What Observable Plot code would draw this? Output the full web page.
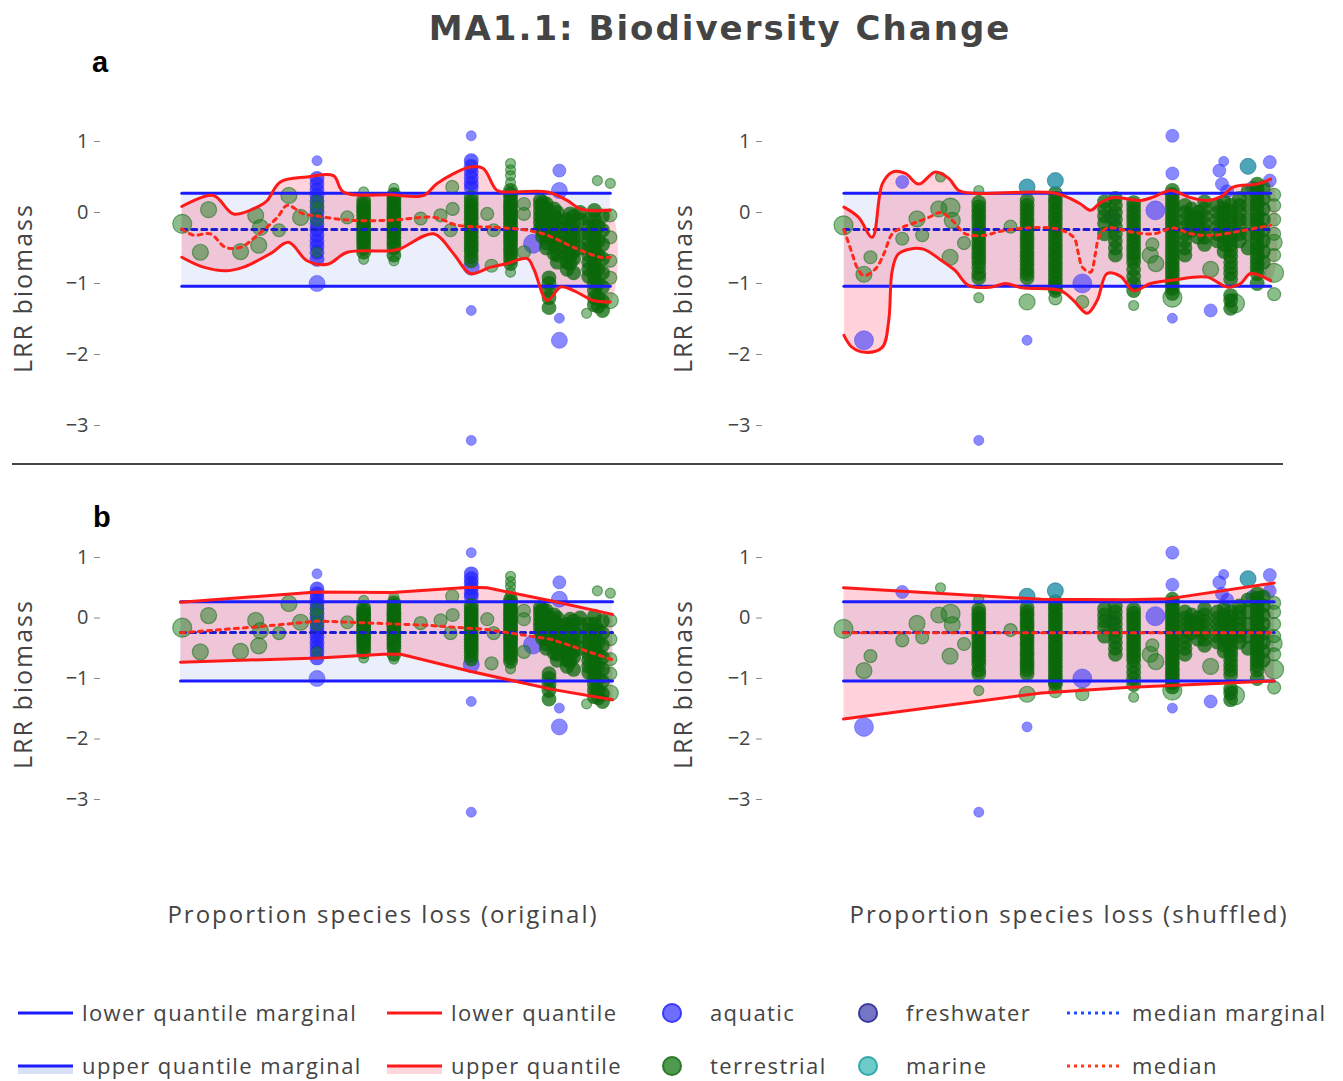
<!DOCTYPE html>
<html><head><meta charset="utf-8">
<script src="https://cdn.jsdelivr.net/npm/d3@7"></script>
<script src="https://cdn.jsdelivr.net/npm/@observablehq/plot@0.6"></script>
<style>
body{margin:0;background:#fff;}
#root{position:relative;width:1343px;height:1081px;overflow:hidden;font-family:"Open Sans",sans-serif;color:#444;}
.t{position:absolute;white-space:nowrap;line-height:1;}
.p{position:absolute;}
</style></head><body><div id="root"></div>
<script>
// ---------------- DATA ----------------
// marginal quantiles (same for all panels)
const marginal = {lower: -1.04, median: -0.24, upper: 0.27};

// ORIGINAL x (proportion species loss) — isolated points [x, y, weight]
const origTerrPts = [[0.004,-0.16,5],[0.065,0.04,4],[0.046,-0.56,4],[0.139,-0.55,4],[0.174,-0.04,4],[0.185,-0.21,4],[0.181,-0.46,4],[0.228,-0.25,3],[0.251,0.24,4],[0.278,-0.07,4],[0.386,-0.07,3],[0.556,-0.085,3],[0.602,-0.04,3],[0.629,0.36,3],[0.63,0.05,3],[0.625,-0.25,3],[0.71,-0.02,3],[0.725,-0.25,3],[0.72,-0.75,3],[0.795,0.12,3],[0.795,-0.02,3],[0.795,-0.56,3],[0.965,0.45,2],[0.995,0.41,2],[0.995,-0.04,3],[0.995,-0.35,3],[0.995,-0.68,3],[0.995,-0.92,3],[0.995,-1.24,4],[0.94,-1.42,2],[0.316,0.15,3],[0.316,0.05,3],[0.316,-0.1,3],[0.316,-0.56,2],[0.424,0.29,2],[0.424,-0.66,2],[0.494,0.34,2],[0.494,-0.68,2],[0.764,0.69,2],[0.764,0.6,2],[0.764,0.52,2],[0.764,0.42,2],[0.764,-0.84,2]];
// dense columns [x, [y...]]
const origTerrCols = [
 [0.424,[0.17,0.12,0.08,0.04,0.0,-0.04,-0.08,-0.12,-0.16,-0.2,-0.24,-0.28,-0.32,-0.36,-0.4,-0.45,-0.5,-0.56]],
 [0.494,[0.25,0.2,0.15,0.1,0.06,0.02,-0.02,-0.06,-0.1,-0.14,-0.18,-0.22,-0.26,-0.3,-0.35,-0.4,-0.45,-0.5,-0.6]],
 [0.673,[0.21,0.15,0.1,0.05,0.0,-0.05,-0.1,-0.15,-0.2,-0.25,-0.3,-0.35,-0.4,-0.45,-0.5,-0.55,-0.62,-0.68]],
 [0.764,[0.31,0.26,0.21,0.16,0.12,0.08,0.04,0.0,-0.04,-0.08,-0.12,-0.16,-0.2,-0.24,-0.28,-0.32,-0.36,-0.4,-0.45,-0.5,-0.55,-0.6,-0.66,-0.72]],
 [0.833,[0.17,0.1,0.02,-0.06,-0.14,-0.22]],
 [0.838,[0.14,0.06,-0.02,-0.1,-0.18,-0.26,-0.34]],
 [0.847,[0.12,0.05,-0.03,-0.11,-0.19,-0.27,-0.35,-0.43,-0.5]],
 [0.853,[-0.92,-1.0,-1.1,-1.2,-1.34]],
 [0.865,[0.05,-0.05,-0.15,-0.25,-0.35,-0.45,-0.58]],
 [0.872,[0.0,-0.1,-0.2,-0.3,-0.4,-0.5,-0.6,-0.7]],
 [0.895,[-0.1,-0.2,-0.3,-0.4,-0.5,-0.6,-0.7,-0.8]],
 [0.902,[-0.02,-0.12,-0.22,-0.32,-0.42,-0.52,-0.62,-0.72]],
 [0.91,[-0.05,-0.15,-0.25,-0.35,-0.45,-0.55,-0.65,-0.85]],
 [0.925,[0.0,-0.1,-0.3,-0.5]],
 [0.945,[-0.1,-0.2,-0.3,-0.4,-0.5,-0.6,-0.7,-0.8,-0.9]],
 [0.958,[0.03,-0.1,-0.2,-0.3,-0.4,-0.5,-0.6,-0.7,-0.8,-0.9,-1.0,-1.1,-1.2,-1.3]],
 [0.967,[-0.2,-0.4,-0.6,-0.8,-1.0,-1.2,-1.32]],
 [0.977,[-0.05,-0.25,-0.45,-0.65,-0.85,-1.05,-1.25,-1.38]]
];
const origAquaPts = [[0.316,0.73,2],[0.316,-1.0,4],[0.673,1.08,2],[0.673,-0.77,4],[0.673,-1.38,2],[0.673,-3.21,2],[0.816,-0.44,5],[0.877,0.59,3],[0.877,0.31,4],[0.877,-1.49,2],[0.877,-1.8,4]];
const origAquaCols = [
 [0.316,[0.48,0.4,0.32,0.24,0.16,0.08,0.0,-0.08,-0.16,-0.24,-0.32,-0.4,-0.48,-0.56,-0.66]],
 [0.673,[0.73,0.65,0.57,0.49,0.41,0.35]]
];
const origMarinePts = [];

// SHUFFLED x
const shufTerrPts = [[0.0,-0.18,5],[0.047,-0.87,4],[0.062,-0.63,3],[0.135,-0.37,3],[0.169,-0.09,4],[0.181,-0.32,3],[0.219,0.05,4],[0.223,0.5,2],[0.246,0.07,5],[0.25,-0.11,4],[0.245,-0.63,4],[0.277,-0.43,3],[0.384,-0.2,3],[0.549,-1.26,3],[0.311,0.31,2],[0.311,-1.2,2],[0.422,-1.26,4],[0.487,-1.21,3],[0.667,-1.31,2],[0.705,-0.6,4],[0.718,-0.72,4],[0.71,-0.45,3],[0.756,-1.2,5],[0.844,-0.8,4],[0.9,-1.28,5],[0.99,0.25,3],[0.99,0.1,3],[0.99,-0.1,3],[0.99,-0.3,3],[0.99,-0.42,4],[0.99,-0.6,3],[0.99,-0.85,5],[0.99,-1.15,3]];
const shufTerrCols = [
 [0.311,[0.14,0.08,0.02,-0.04,-0.1,-0.16,-0.22,-0.28,-0.34,-0.4,-0.46,-0.52,-0.58,-0.64,-0.7,-0.77,-0.86,-0.92]],
 [0.422,[0.17,0.1,0.04,-0.02,-0.08,-0.14,-0.2,-0.26,-0.32,-0.38,-0.44,-0.5,-0.56,-0.62,-0.68,-0.74,-0.8,-0.86,-0.92]],
 [0.487,[0.27,0.2,0.14,0.08,0.02,-0.04,-0.1,-0.16,-0.22,-0.28,-0.34,-0.4,-0.46,-0.52,-0.58,-0.64,-0.7,-0.76,-0.82,-0.88,-0.94,-1.0,-1.06,-1.1]],
 [0.6,[0.15,0.05,-0.05,-0.15,-0.3]],
 [0.625,[0.2,0.1,0.0,-0.1,-0.2,-0.3,-0.4,-0.5,-0.6]],
 [0.667,[0.14,0.08,0.02,-0.04,-0.1,-0.16,-0.22,-0.28,-0.34,-0.4,-0.46,-0.52,-0.58,-0.64,-0.7,-0.8,-0.9,-1.0,-1.1]],
 [0.756,[0.31,0.25,0.19,0.13,0.07,0.01,-0.05,-0.11,-0.17,-0.23,-0.29,-0.35,-0.41,-0.47,-0.53,-0.59,-0.65,-0.71,-0.77,-0.83,-0.89,-0.95,-1.01,-1.07,-1.14]],
 [0.785,[0.1,0.0,-0.1,-0.2,-0.3,-0.4,-0.5,-0.6]],
 [0.8,[0.05,-0.05,-0.15,-0.25]],
 [0.815,[0.0,-0.1,-0.2,-0.35]],
 [0.83,[0.15,0.05,-0.05,-0.15,-0.25,-0.35,-0.45]],
 [0.86,[0.1,0.0,-0.1,-0.2,-0.3,-0.4]],
 [0.875,[0.15,0.05,-0.05,-0.15,-0.25,-0.35,-0.45,-0.55]],
 [0.89,[0.1,0.02,-0.06,-0.14,-0.22,-0.3,-0.38,-0.46,-0.54,-0.62,-0.7,-0.78,-0.86,-0.94,-1.17,-1.24,-1.35]],
 [0.91,[0.2,0.1,0.0,-0.1,-0.2,-0.3,-0.4]],
 [0.93,[0.3,0.1,-0.1,-0.3,-0.5]],
 [0.951,[0.4,0.33,0.26,0.19,0.12,0.05,-0.02,-0.09,-0.16,-0.23,-0.3,-0.37,-0.44,-0.51,-0.58,-0.65,-0.72,-0.79,-0.86,-1.0]],
 [0.965,[0.35,0.2,0.05,-0.1,-0.25,-0.4,-0.55,-0.7]]
];
const shufAquaPts = [[0.047,-1.8,5],[0.135,0.43,3],[0.311,-3.21,2],[0.422,-1.8,2],[0.549,-1.0,5],[0.617,-0.07,4],[0.717,0.03,5],[0.756,1.08,3],[0.756,0.55,3],[0.756,-1.49,2],[0.844,-1.38,3],[0.864,0.59,3],[0.874,0.72,2],[0.87,0.4,3],[0.882,0.3,3],[0.98,0.71,3],[0.98,0.45,3],[0.94,0.35,3]];
const shufAquaCols = [];
const shufMarinePts = [[0.422,0.36,4],[0.487,0.45,4],[0.93,0.65,4]];

// quantile curves, panel a (smooth)
const origUpperA = [[0.003,0.085],[0.076,0.24],[0.123,-0.02],[0.185,0.1],[0.201,0.17],[0.231,0.43],[0.293,0.5],[0.354,0.52],[0.377,0.29],[0.486,0.25],[0.563,0.24],[0.594,0.41],[0.671,0.64],[0.701,0.62],[0.733,0.31],[0.771,0.29],[0.85,0.29],[0.895,0.17],[0.926,0.05],[0.995,0.03]];
const origLowerA = [[0.003,-0.63],[0.053,-0.77],[0.108,-0.82],[0.146,-0.77],[0.208,-0.58],[0.25,-0.42],[0.293,-0.68],[0.34,-0.73],[0.386,-0.56],[0.486,-0.54],[0.509,-0.51],[0.586,-0.3],[0.632,-0.58],[0.671,-0.86],[0.718,-0.77],[0.756,-0.72],[0.803,-0.65],[0.818,-0.8],[0.849,-1.24],[0.88,-1.05],[0.91,-1.1],[0.956,-1.24],[0.995,-1.26]];
const origMedianA = [[0.003,-0.23],[0.03,-0.32],[0.069,-0.3],[0.104,-0.49],[0.139,-0.49],[0.178,-0.32],[0.224,-0.07],[0.247,0.1],[0.285,-0.02],[0.316,-0.05],[0.394,-0.11],[0.486,-0.11],[0.588,-0.07],[0.641,-0.18],[0.733,-0.21],[0.803,-0.25],[0.849,-0.32],[0.91,-0.49],[0.972,-0.63],[0.995,-0.63]];
const shufUpperA = [[0.001,0.075],[0.035,-0.07],[0.066,-0.35],[0.089,0.4],[0.112,0.57],[0.142,0.55],[0.173,0.4],[0.211,0.57],[0.242,0.48],[0.265,0.31],[0.303,0.27],[0.487,0.27],[0.545,0.12],[0.568,0.03],[0.591,0.14],[0.621,0.21],[0.683,0.17],[0.713,0.22],[0.752,0.31],[0.798,0.21],[0.836,0.17],[0.867,0.22],[0.897,0.36],[0.951,0.4],[0.982,0.47]];
const shufLowerA = [[0.001,-1.73],[0.02,-1.9],[0.05,-1.97],[0.089,-1.9],[0.104,-1.52],[0.112,-0.82],[0.127,-0.58],[0.18,-0.51],[0.226,-0.68],[0.257,-0.82],[0.288,-1.03],[0.341,-1.05],[0.372,-1.0],[0.41,-1.06],[0.499,-1.1],[0.529,-1.24],[0.56,-1.42],[0.583,-1.24],[0.606,-0.86],[0.637,-0.9],[0.667,-1.1],[0.706,-1.0],[0.759,-0.95],[0.836,-0.91],[0.882,-1.05],[0.913,-1.0],[0.936,-0.86],[0.982,-0.96]];
const shufMedianA = [[0.001,-0.24],[0.02,-0.58],[0.031,-0.77],[0.047,-0.89],[0.074,-0.79],[0.093,-0.58],[0.112,-0.3],[0.135,-0.21],[0.166,-0.14],[0.196,-0.07],[0.223,0.0],[0.25,-0.11],[0.28,-0.3],[0.326,-0.32],[0.357,-0.27],[0.418,-0.22],[0.49,-0.23],[0.529,-0.35],[0.54,-0.58],[0.549,-0.77],[0.568,-0.84],[0.579,-0.58],[0.587,-0.35],[0.606,-0.22],[0.667,-0.28],[0.713,-0.3],[0.759,-0.22],[0.798,-0.3],[0.851,-0.32],[0.913,-0.26],[0.982,-0.18]];
// quantile curves, panel b (linear)
const origUpperB = [[0.0,0.26],[0.315,0.43],[0.49,0.42],[0.67,0.51],[0.71,0.5],[0.86,0.28],[1.0,0.06]];
const origLowerB = [[0.0,-0.73],[0.32,-0.66],[0.47,-0.6],[0.51,-0.6],[0.67,-0.88],[0.86,-1.18],[1.0,-1.35]];
const origMedianB = [[0.0,-0.245],[0.17,-0.15],[0.32,-0.05],[0.57,-0.12],[0.71,-0.19],[0.86,-0.355],[1.0,-0.69]];
const shufUpperB = [[0.0,0.5],[0.455,0.31],[0.65,0.3],[0.75,0.32],[0.99,0.58]];
const shufLowerB = [[0.0,-1.67],[0.455,-1.24],[0.65,-1.15],[0.99,-1.04]];
const shufMedianB = [[0.0,-0.245],[0.99,-0.245]];

const yTicks = [-3,-2,-1,0,1];

// ---------------- BUILD ----------------
function build(pts, cols, type){
  const out = [];
  for (const [x,y,w] of pts) out.push({x,y,w,type,dense:false});
  for (const [x,ys] of cols) for (const y of ys) out.push({x,y,w:3.6,type,dense:true});
  return out;
}
const origPoints = {aqua: build(origAquaPts, origAquaCols, "aquatic"), terr: build(origTerrPts, origTerrCols, "terrestrial"), marine: build(origMarinePts, [], "marine")};
const shufPoints = {aqua: build(shufAquaPts, shufAquaCols, "aquatic"), terr: build(shufTerrPts, shufTerrCols, "terrestrial"), marine: build(shufMarinePts, [], "marine")};

const root = document.getElementById("root");
const fmt = d => d < 0 ? "\u2212" + Math.abs(d) : String(d);
const X = d => d[0], Y = d => d[1];

function panel({pts, upper, lower, median, curve, xr, yr, h, left, top}) {
  const x0 = upper[0][0], x1 = upper[upper.length-1][0];
  const band = [{x:x0},{x:x1}];
  const poly = upper.concat(lower.slice().reverse());
  const terrIso = pts.terr.filter(d => !d.dense), terrDense = pts.terr.filter(d => d.dense);
  const aquaIso = pts.aqua.filter(d => !d.dense), aquaDense = pts.aqua.filter(d => d.dense);
  const svg = Plot.plot({
    width: 640, height: h,
    marginLeft: 100, marginRight: 0, marginTop: 0, marginBottom: 0,
    x: {domain:[0,1], range: xr, axis: null},
    y: {domain:[-3,1], range: yr, axis: null},
    r: {type:"linear", domain:[1,5], range:[3.5,9.5]},
    style: {fontSize:"20px", fontFamily:"'Open Sans', sans-serif", color:"#444", background:"transparent", overflow:"visible"},
    marks: [
      Plot.axisY({ticks: yTicks, tickSize: 6, tickPadding: 6, label: null, tickFormat: fmt, stroke: "#888"}),
      Plot.areaY(band, {x:"x", y1: () => marginal.lower, y2: () => marginal.upper, fill:"#cdd6f4", fillOpacity:0.4}),
      Plot.line(poly, {x: X, y: Y, curve, fill:"#ff2050", fillOpacity:0.2, stroke:"none"}),
      Plot.dot(aquaDense, {x:"x", y:"y", r:"w", fill:"#2222ff", fillOpacity:0.7, stroke:"none"}),
      Plot.dot(aquaIso, {x:"x", y:"y", r:"w", fill:"#2a2aff", fillOpacity:0.55, stroke:"#3a3aff", strokeOpacity:0.45, strokeWidth:1}),
      Plot.dot(terrIso, {x:"x", y:"y", r:"w", fill:"#1a7d1a", fillOpacity:0.5, stroke:"#16701a", strokeOpacity:0.55, strokeWidth:1.2}),
      Plot.dot(terrDense, {x:"x", y:"y", r:"w", fill:"#0a680a", fillOpacity:0.75, stroke:"none"}),
      Plot.dot(pts.marine, {x:"x", y:"y", r:"w", fill:"#1f8fa8", fillOpacity:0.8, stroke:"#1b6e84", strokeOpacity:0.6, strokeWidth:1}),
      Plot.line(band, {x:"x", y: () => marginal.upper, stroke:"#1c1cff", strokeWidth:3}),
      Plot.line(band, {x:"x", y: () => marginal.lower, stroke:"#1c1cff", strokeWidth:3}),
      Plot.line(band, {x:"x", y: () => marginal.median, stroke:"#1c1cd0", strokeWidth:3, strokeDasharray:"5,5"}),
      Plot.line(upper, {x: X, y: Y, curve, stroke:"#ff1a1a", strokeWidth:3}),
      Plot.line(lower, {x: X, y: Y, curve, stroke:"#ff1a1a", strokeWidth:3}),
      Plot.line(median, {x: X, y: Y, curve, stroke:"#ff2a1a", strokeWidth:3, strokeDasharray:"4,5"})
    ]
  });
  svg.classList.add("p");
  svg.style.left = left + "px";
  svg.style.top = top + "px";
  root.appendChild(svg);
}

panel({pts: origPoints, upper: origUpperA, lower: origLowerA, median: origMedianA, curve:"catmull-rom", xr:[180,612], yr:[325,41], h:360, left:0, top:100});
panel({pts: shufPoints, upper: shufUpperA, lower: shufLowerA, median: shufMedianA, curve:"catmull-rom", xr:[181,616], yr:[325,41], h:360, left:662, top:100});
panel({pts: origPoints, upper: origUpperB, lower: origLowerB, median: origMedianB, curve:"linear", xr:[180,612], yr:[299,57], h:350, left:0, top:500});
panel({pts: shufPoints, upper: shufUpperB, lower: shufLowerB, median: shufMedianB, curve:"linear", xr:[181,616], yr:[299,57], h:350, left:662, top:500});

// ---------------- TEXT ----------------
function text(str, x, y, css, anchor) {
  const d = document.createElement("div");
  d.className = "t";
  d.textContent = str;
  Object.assign(d.style, css);
  d.style.left = x + "px"; d.style.top = y + "px";
  d.style.transform = anchor || "translate(0,-50%)";
  root.appendChild(d);
  return d;
}
text("MA1.1: Biodiversity Change", 720, 28, {fontFamily:"'DejaVu Sans', sans-serif", fontWeight:"bold", fontSize:"34px", letterSpacing:"2px", color:"#444"}, "translate(-50%,-50%)");
text("a", 92, 62, {fontFamily:"'Liberation Sans', Arial, sans-serif", fontWeight:"bold", fontSize:"29px", color:"#000"});
text("b", 93, 517, {fontFamily:"'Liberation Sans', Arial, sans-serif", fontWeight:"bold", fontSize:"29px", color:"#000"});
const sep = document.createElement("div");
Object.assign(sep.style, {position:"absolute", left:"12px", top:"463px", width:"1271px", height:"2px", background:"#444"});
root.appendChild(sep);
for (const [cx, cy] of [[22,288],[682,288],[22,684],[682,684]]) {
  text("LRR biomass", cx, cy, {fontSize:"25px", letterSpacing:"2px", color:"#444"}, "translate(-50%,-50%) rotate(-90deg)");
}
text("Proportion species loss (original)", 383, 914, {fontSize:"24px", color:"#444", letterSpacing:"2px"}, "translate(-50%,-50%)");
text("Proportion species loss (shuffled)", 1069, 914, {fontSize:"24px", color:"#444", letterSpacing:"2px"}, "translate(-50%,-50%)");

// ---------------- LEGEND ----------------
const legendItems = [
  {kind:"line", color:"#1c1cff", label:"lower quantile marginal", x:18, row:0},
  {kind:"line", color:"#1c1cff", label:"upper quantile marginal", x:18, row:1, under:"#c9d4f4"},
  {kind:"line", color:"#ff1a1a", label:"lower quantile", x:387, row:0},
  {kind:"line", color:"#ff1a1a", label:"upper quantile", x:387, row:1, under:"#ffc4cc"},
  {kind:"dot", fill:"#6f6fff", stroke:"#3a3aff", label:"aquatic", x:672, row:0},
  {kind:"dot", fill:"#4f9a4f", stroke:"#2a7a2a", label:"terrestrial", x:672, row:1},
  {kind:"dot", fill:"#7575c4", stroke:"#3a3a9e", label:"freshwater", x:868, row:0},
  {kind:"dot", fill:"#6fcaca", stroke:"#32a9a9", label:"marine", x:868, row:1},
  {kind:"dash", color:"#1c4cff", label:"median marginal", x:1067, row:0},
  {kind:"dash", color:"#ff3a1a", label:"median", x:1067, row:1}
];
const rowsY = [1013, 1066];
const ns = "http://www.w3.org/2000/svg";
const lsvg = document.createElementNS(ns, "svg");
lsvg.setAttribute("width", 1343); lsvg.setAttribute("height", 1081);
lsvg.style.position = "absolute"; lsvg.style.left = "0"; lsvg.style.top = "0";
root.appendChild(lsvg);
function el(name, attrs){ const e = document.createElementNS(ns, name); for (const k in attrs) e.setAttribute(k, attrs[k]); lsvg.appendChild(e); return e; }
const legCss = {fontSize:"22px", letterSpacing:"1.4px", color:"#444"};
for (const it of legendItems) {
  const y = rowsY[it.row];
  if (it.kind === "line") {
    if (it.under) el("rect", {x: it.x, y: y, width: 55, height: 8, fill: it.under, opacity: 0.7});
    el("line", {x1: it.x, x2: it.x + 55, y1: y, y2: y, stroke: it.color, "stroke-width": 3});
    text(it.label, it.x + 64, y - 1, legCss);
  } else if (it.kind === "dot") {
    el("circle", {cx: it.x, cy: y, r: 9, fill: it.fill, stroke: it.stroke, "stroke-width": 2});
    text(it.label, it.x + 38, y - 1, legCss);
  } else {
    el("line", {x1: it.x, x2: it.x + 52, y1: y, y2: y, stroke: it.color, "stroke-width": 3, "stroke-dasharray": "3,4"});
    text(it.label, it.x + 65, y - 1, legCss);
  }
}
</script></body></html>
